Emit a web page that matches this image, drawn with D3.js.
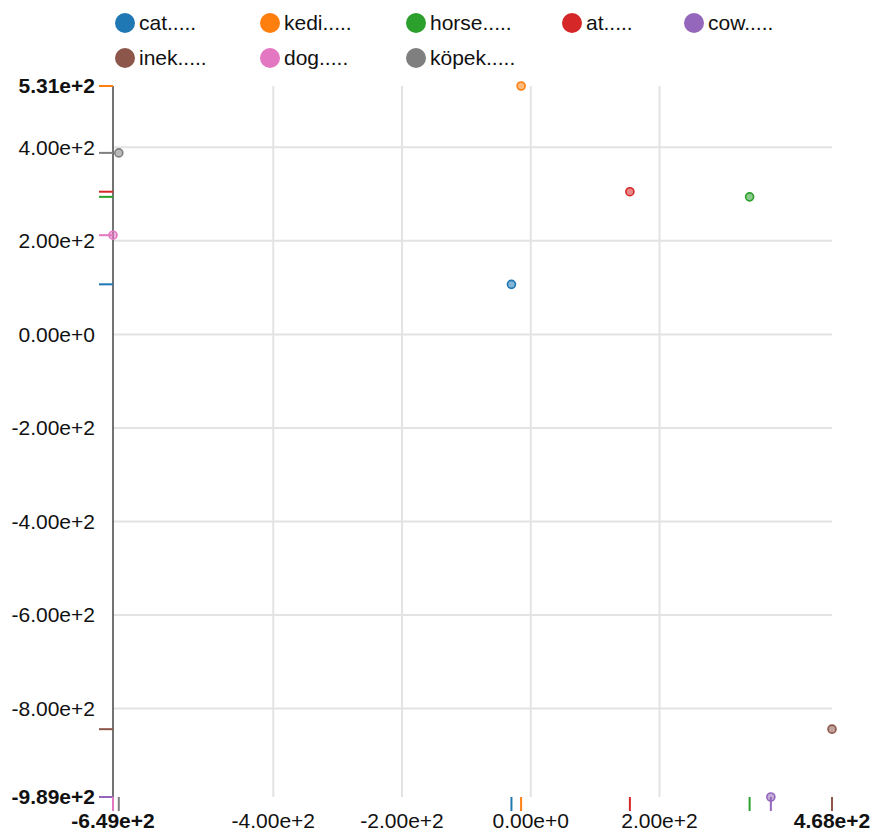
<!DOCTYPE html>
<html><head><meta charset="utf-8">
<script src="https://cdn.jsdelivr.net/npm/d3@7"></script>
<style>body{margin:0;background:#fff;} svg{display:block;font-family:"Liberation Sans",Arial,sans-serif;}</style>
</head><body>
<script>
const labels = ["cat.....","kedi.....","horse.....","at.....","cow.....","inek.....","dog.....","köpek....."];
const xValues = [-30, -15, 340, 154, 373, 468, -649, -640];
const yValues = [107, 531, 294, 305, -989, -844, 212, 388];
const colors = ["#1f77b4","#ff7f0e","#2ca02c","#d62728","#9467bd","#8c564b","#e377c2","#7f7f7f"];
const xTicks = [-400, -200, 0, 200];
const yTicks = [400, 200, 0, -200, -400, -600, -800];

const W = 874, H = 837;
const m = {left:113, right:42, top:86, bottom:40};
const FS = 21;
const svg = d3.select("body").append("svg").attr("width", W).attr("height", H);

const xExt = d3.extent(xValues), yExt = d3.extent(yValues);
const x = d3.scaleLinear().domain(xExt).range([m.left, W - m.right]);
const y = d3.scaleLinear().domain(yExt).range([H - m.bottom, m.top]);
const f0 = d3.format(".2e");
const fmt = d => f0(d).replace("\u2212", "-");

// gridlines
svg.append("g").selectAll("line").data(xTicks).join("line")
  .attr("x1", d => x(d)).attr("x2", d => x(d))
  .attr("y1", y.range()[1]).attr("y2", y.range()[0])
  .attr("stroke", "#e3e3e3").attr("stroke-width", 2);
svg.append("g").selectAll("line").data(yTicks).join("line")
  .attr("y1", d => y(d)).attr("y2", d => y(d))
  .attr("x1", x.range()[0]).attr("x2", x.range()[1])
  .attr("stroke", "#e3e3e3").attr("stroke-width", 2);

// left axis line
svg.append("line").attr("x1", m.left).attr("x2", m.left)
  .attr("y1", y.range()[1]).attr("y2", y.range()[0])
  .attr("stroke", "#444").attr("stroke-width", 1.5);

// tick labels
const yl = svg.append("g").attr("font-size", FS).attr("text-anchor", "end").attr("fill", "#111");
yl.selectAll("text.t").data(yTicks).join("text").attr("class","t")
  .attr("x", m.left - 18).attr("y", d => y(d)).attr("dy", "0.35em").text(d => fmt(d));
yl.selectAll("text.e").data(yExt).join("text").attr("class","e")
  .attr("x", m.left - 18).attr("y", d => y(d)).attr("dy", "0.35em")
  .attr("font-weight", "bold").text(d => fmt(d));

const xl = svg.append("g").attr("font-size", FS).attr("text-anchor", "middle").attr("fill", "#111");
xl.selectAll("text.t").data(xTicks).join("text").attr("class","t")
  .attr("x", d => x(d)).attr("y", H - m.bottom + 31).text(d => fmt(d));
xl.selectAll("text.e").data(xExt).join("text").attr("class","e")
  .attr("x", d => x(d)).attr("y", H - m.bottom + 31)
  .attr("font-weight", "bold").text(d => fmt(d));

const idx = d3.range(labels.length);
// rugs
svg.append("g").selectAll("line").data(idx).join("line")
  .attr("x1", m.left - 14).attr("x2", m.left)
  .attr("y1", i => y(yValues[i])).attr("y2", i => y(yValues[i]))
  .attr("stroke", i => colors[i]).attr("stroke-width", 2);
svg.append("g").selectAll("line").data(idx).join("line")
  .attr("x1", i => x(xValues[i])).attr("x2", i => x(xValues[i]))
  .attr("y1", H - m.bottom).attr("y2", H - m.bottom + 14)
  .attr("stroke", i => colors[i]).attr("stroke-width", 2);

// points
svg.append("g").selectAll("circle").data(idx).join("circle")
  .attr("cx", i => x(xValues[i])).attr("cy", i => y(yValues[i])).attr("r", 4)
  .attr("fill", i => colors[i]).attr("fill-opacity", 0.55)
  .attr("stroke", i => colors[i]).attr("stroke-width", 1.6);

// legend
const colX = [125, 270, 416, 572, 694];
const perRow = 5;
const lg = svg.append("g").selectAll("g").data(idx).join("g")
  .attr("transform", i => `translate(${colX[i % perRow]},${23 + Math.floor(i / perRow) * 35})`);
lg.append("circle").attr("r", 10).attr("fill", i => colors[i]);
lg.append("text").attr("x", 14).attr("dy", "0.35em").attr("font-size", FS)
  .attr("fill", "#111").text(i => labels[i]);
</script>
</body></html>
